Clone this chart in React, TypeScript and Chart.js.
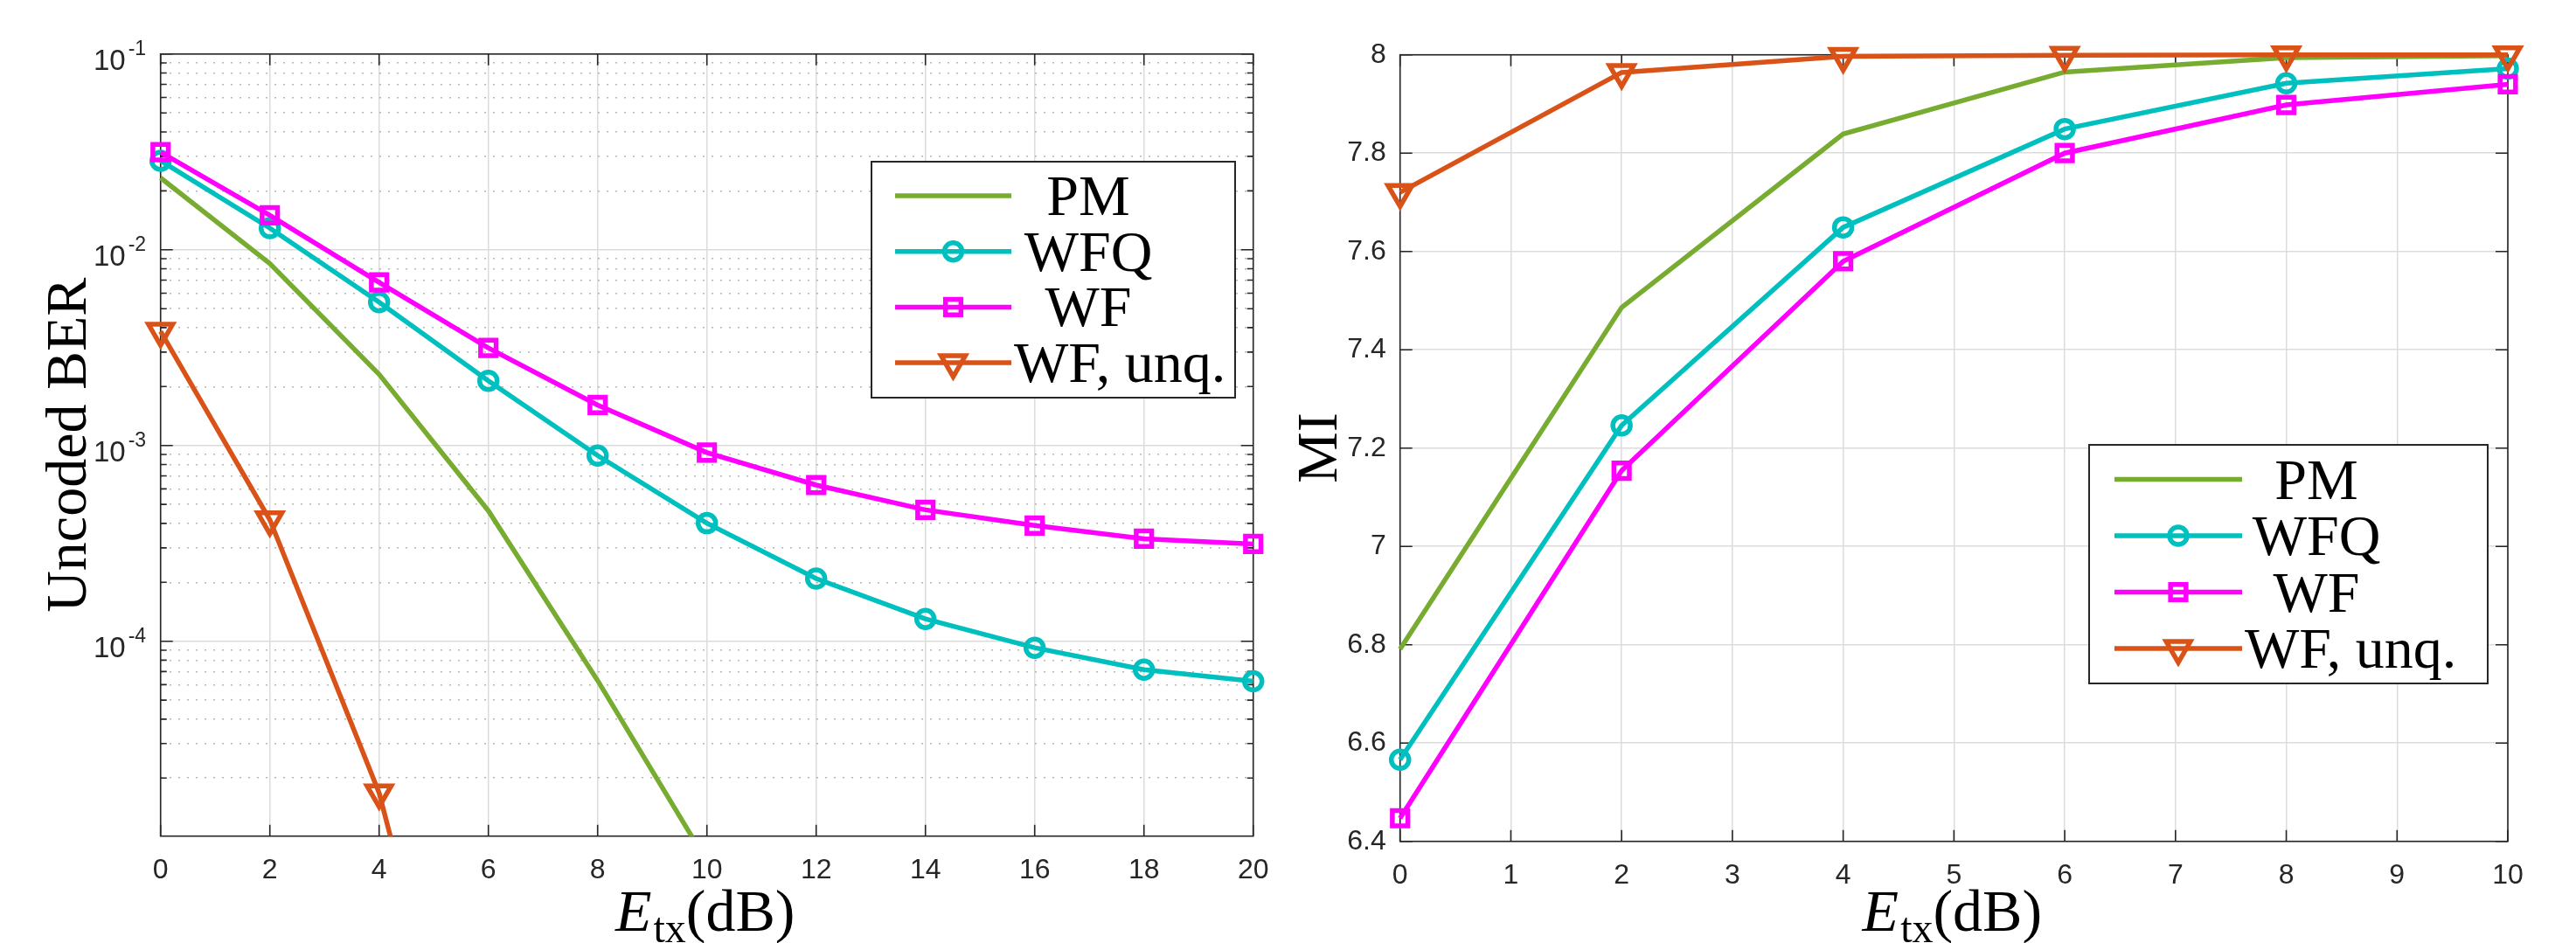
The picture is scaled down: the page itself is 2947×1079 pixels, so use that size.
import React, { useEffect, useRef } from 'react';
import { Chart, registerables } from 'chart.js';

Chart.register(...registerables);

// ---------------- data ----------------
const SERIES_LABELS = ['PM', 'WFQ', 'WF', 'WF, unq.'];

// Left panel: uncoded BER vs E_tx (dB)
const BER_X = [0, 2, 4, 6, 8, 10, 12, 14, 16, 18, 20];
const BER_PM = [2.33e-2, 8.5e-3, 2.31e-3, 4.64e-4, 6.3e-5, 7.5e-6];
const BER_WFQ = [2.85e-2, 1.29e-2, 5.4e-3, 2.14e-3, 8.88e-4, 4.01e-4, 2.09e-4, 1.3e-4, 9.26e-5, 7.16e-5, 6.24e-5];
const BER_WF = [3.15e-2, 1.5e-2, 6.81e-3, 3.15e-3, 1.61e-3, 9.2e-4, 6.28e-4, 4.69e-4, 3.9e-4, 3.34e-4, 3.14e-4];
const BER_WF_UNQ = [3.83e-3, 4.17e-4, 1.68e-5, 1.2e-7];

// Right panel: MI vs E_tx (dB)
const MI_X = [0, 2, 4, 6, 8, 10];
const MI_PM = [6.791, 7.486, 7.839, 7.965, 7.994, 7.998];
const MI_WFQ = [6.566, 7.246, 7.649, 7.849, 7.942, 7.972];
const MI_WF = [6.447, 7.154, 7.58, 7.8, 7.898, 7.94];
const MI_WF_UNQ = [7.72, 7.964, 7.997, 7.999, 8.0, 8.0];

// Axis ranges and tick values
const BER_Y_MIN = 1.01e-5;
const BER_Y_MAX = 1e-1;
const BER_X_TICKS = [0, 2, 4, 6, 8, 10, 12, 14, 16, 18, 20];
const BER_DECADES = [-5, -4, -3, -2, -1];
const BER_MINOR_MULTIPLES = [2, 3, 4, 5, 6, 7, 8, 9];
const MI_X_TICKS = [0, 1, 2, 3, 4, 5, 6, 7, 8, 9, 10];
const MI_Y_TICKS = [6.4, 6.6, 6.8, 7, 7.2, 7.4, 7.6, 7.8, 8];

const X_TITLE_PARTS = ['E', 'tx', '(dB)'];
const BER_Y_TITLE = 'Uncoded BER';
const MI_Y_TITLE = 'MI';

// ---------------- style ----------------
const COLORS = ['#77AC30', '#00BFBF', '#FF00FF', '#D95319'];
const MARKERS = [
  { style: 'circle', r: 0, rot: 0 },
  { style: 'circle', r: 10, rot: 0 },
  { style: 'rect', r: 12.5, rot: 0 },
  { style: 'triangle', r: 16, rot: 180 },
];
const LINE_W = 5.5;
const MARKER_BW = 5.5;
const AXIS_COLOR = '#262626';
const MAJOR_GRID = '#dcdcdc';
const MINOR_GRID = '#b5b5b5';
const SANS = "'Liberation Sans', Arial, Helvetica, sans-serif";
const SERIF = "'Liberation Serif', 'Times New Roman', serif";

const LOG_TICK_VALUES: number[] = [];
BER_DECADES.forEach((e, i) => {
  LOG_TICK_VALUES.push(Math.pow(10, e));
  if (i < BER_DECADES.length - 1) {
    BER_MINOR_MULTIPLES.forEach((m) => LOG_TICK_VALUES.push(m * Math.pow(10, e)));
  }
});
const LOG_TICKS_IN_RANGE = LOG_TICK_VALUES.filter((v) => v >= BER_Y_MIN * 0.999999 && v <= BER_Y_MAX * 1.000001);

const isPow10 = (v: number) => {
  if (!(v > 0)) return false;
  const l = Math.log10(v);
  return Math.abs(l - Math.round(l)) < 1e-6;
};

function makeDatasets(xs: number[], series: number[][]) {
  return series.map((ys, i) => ({
    label: SERIES_LABELS[i],
    data: ys.map((y, j) => ({ x: xs[j], y })),
    borderColor: COLORS[i],
    backgroundColor: COLORS[i],
    borderWidth: LINE_W,
    pointStyle: MARKERS[i].style,
    pointRadius: MARKERS[i].r,
    pointRotation: MARKERS[i].rot,
    pointBorderWidth: MARKER_BW,
    pointBorderColor: COLORS[i],
    pointBackgroundColor: 'rgba(0,0,0,0)',
    tension: 0,
    order: 4 - i,
    clip: { left: 40, right: 40, top: 40, bottom: 0 },
  }));
}

function drawMarker(ctx: CanvasRenderingContext2D, style: string, x: number, y: number, r: number, rotDeg: number) {
  ctx.beginPath();
  if (style === 'circle') {
    ctx.arc(x, y, r, 0, Math.PI * 2);
  } else if (style === 'rect') {
    const s = r * Math.SQRT1_2;
    ctx.rect(x - s, y - s, 2 * s, 2 * s);
  } else if (style === 'triangle') {
    let rad = (rotDeg * Math.PI) / 180;
    ctx.moveTo(x + Math.sin(rad) * r, y - Math.cos(rad) * r);
    rad += (2 * Math.PI) / 3;
    ctx.lineTo(x + Math.sin(rad) * r, y - Math.cos(rad) * r);
    rad += (2 * Math.PI) / 3;
    ctx.lineTo(x + Math.sin(rad) * r, y - Math.cos(rad) * r);
    ctx.closePath();
  }
  ctx.stroke();
}

type LegendCfg = { x: number; y: number; w: number; h: number; x0: number; x1: number; row0: number; gap: number; textCenter: number };
type DecorCfg = { logY: boolean; yTitle: string; yTitleBaseX: number; xTitleBaseY: number; legend: LegendCfg };

function makeDecor(cfg: DecorCfg) {
  return {
    id: 'matlabDecor',
    beforeDatasetsDraw(chart: any) {
      const { ctx, chartArea: a } = chart;
      const xs = chart.scales.x;
      const ys = chart.scales.y;
      ctx.save();
      ctx.strokeStyle = AXIS_COLOR;
      ctx.lineWidth = 1.6;
      ctx.beginPath();
      for (const t of xs.ticks) {
        const p = xs.getPixelForValue(t.value);
        ctx.moveTo(p, a.bottom);
        ctx.lineTo(p, a.bottom - 13);
        ctx.moveTo(p, a.top);
        ctx.lineTo(p, a.top + 13);
      }
      for (const t of ys.ticks) {
        const p = ys.getPixelForValue(t.value);
        const len = cfg.logY && !isPow10(t.value) ? 7 : 14;
        ctx.moveTo(a.left, p);
        ctx.lineTo(a.left + len, p);
        ctx.moveTo(a.right, p);
        ctx.lineTo(a.right - len, p);
      }
      ctx.stroke();
      ctx.strokeRect(a.left, a.top, a.right - a.left, a.bottom - a.top);
      ctx.restore();
    },
    afterDraw(chart: any) {
      const { ctx, chartArea: a } = chart;
      const ys = chart.scales.y;
      ctx.save();
      // exponents of the log tick labels (10^n)
      if (cfg.logY) {
        ctx.fillStyle = AXIS_COLOR;
        ctx.font = `23px ${SANS}`;
        ctx.textAlign = 'left';
        ctx.textBaseline = 'middle';
        for (const t of ys.ticks) {
          if (!isPow10(t.value)) continue;
          const p = ys.getPixelForValue(t.value);
          ctx.fillText(String(Math.round(Math.log10(t.value))), a.left - 37, p - 5);
        }
      }
      // y title (rotated)
      ctx.fillStyle = '#000';
      ctx.font = `66px ${SERIF}`;
      ctx.textAlign = 'center';
      ctx.textBaseline = 'alphabetic';
      ctx.translate(cfg.yTitleBaseX, (a.top + a.bottom) / 2);
      ctx.rotate(-Math.PI / 2);
      ctx.fillText(cfg.yTitle, 0, 0);
      ctx.setTransform(1, 0, 0, 1, 0, 0);
      // x title: E_tx(dB)
      const fonts = [`italic 68px ${SERIF}`, `48px ${SERIF}`, `68px ${SERIF}`];
      const dys = [0, 13, 0];
      const widths = X_TITLE_PARTS.map((p, i) => {
        ctx.font = fonts[i];
        return ctx.measureText(p).width;
      });
      const total = widths.reduce((s, w) => s + w, 0) + 2;
      let xx = (a.left + a.right) / 2 - 2 - total / 2;
      ctx.textAlign = 'left';
      X_TITLE_PARTS.forEach((p, i) => {
        ctx.font = fonts[i];
        ctx.fillText(p, xx, cfg.xTitleBaseY + dys[i]);
        xx += widths[i] + (i === 0 ? 2 : 0);
      });
      // legend
      const L = cfg.legend;
      ctx.fillStyle = '#fff';
      ctx.fillRect(L.x, L.y, L.w, L.h);
      ctx.strokeStyle = AXIS_COLOR;
      ctx.lineWidth = 2;
      ctx.strokeRect(L.x, L.y, L.w, L.h);
      chart.data.datasets.forEach((ds: any, i: number) => {
        const y = L.row0 + i * L.gap;
        ctx.strokeStyle = ds.borderColor;
        ctx.lineWidth = ds.borderWidth;
        ctx.beginPath();
        ctx.moveTo(L.x0, y);
        ctx.lineTo(L.x1, y);
        ctx.stroke();
        if (ds.pointRadius > 0) {
          ctx.lineWidth = ds.pointBorderWidth;
          drawMarker(ctx, ds.pointStyle, (L.x0 + L.x1) / 2, y, ds.pointRadius, ds.pointRotation || 0);
        }
        ctx.font = `66px ${SERIF}`;
        ctx.fillStyle = '#000';
        ctx.textAlign = 'left';
        ctx.textBaseline = 'alphabetic';
        const w = ctx.measureText(ds.label).width;
        const tx = Math.max(L.x1 + 3, L.textCenter - w / 2);
        ctx.fillText(ds.label, tx, y + 22);
      });
      ctx.restore();
    },
  };
}

const tickFont = (size: number) => ({ family: SANS, size });

function berConfig(): any {
  return {
    type: 'line',
    data: { datasets: makeDatasets(BER_X, [BER_PM, BER_WFQ, BER_WF, BER_WF_UNQ]) },
    options: {
      animation: false,
      responsive: false,
      devicePixelRatio: 1,
      events: [],
      layout: { padding: { top: 61.8, right: 66.3, bottom: 0, left: 0 } },
      plugins: { legend: { display: false }, tooltip: { enabled: false } },
      scales: {
        x: {
          type: 'linear',
          min: 0,
          max: 20,
          afterFit: (s: any) => { s.height = 122.3; },
          afterBuildTicks: (s: any) => { s.ticks = BER_X_TICKS.map((v) => ({ value: v })); },
          ticks: { autoSkip: false, maxRotation: 0, padding: 20, color: AXIS_COLOR, font: tickFont(32), callback: (v: number) => String(v) },
          grid: { color: MAJOR_GRID, lineWidth: 1.5, drawTicks: false },
          border: { display: false },
        },
        y: {
          type: 'logarithmic',
          min: BER_Y_MIN,
          max: BER_Y_MAX,
          afterFit: (s: any) => { s.width = 183.7; },
          afterBuildTicks: (s: any) => { s.ticks = LOG_TICKS_IN_RANGE.map((v) => ({ value: v, major: isPow10(v) })); },
          ticks: {
            autoSkip: false,
            padding: 40,
            labelOffset: 9,
            color: AXIS_COLOR,
            font: tickFont(33),
            callback: (v: number) => (isPow10(v) ? '10' : ''),
          },
          grid: {
            color: (c: any) => (c.tick && !isPow10(c.tick.value) ? MINOR_GRID : MAJOR_GRID),
            lineWidth: 1.5,
            drawTicks: false,
          },
          border: { display: false, dash: (c: any) => (c.tick && !isPow10(c.tick.value) ? [2, 8] : []) },
        },
      },
    },
    plugins: [
      makeDecor({
        logY: true,
        yTitle: BER_Y_TITLE,
        yTitleBaseX: 98,
        xTitleBaseY: 1065,
        legend: { x: 997, y: 185, w: 416, h: 270, x0: 1024, x1: 1157, row0: 224, gap: 63.7, textCenter: 1245 },
      }),
    ],
  };
}

const RIGHT_LEFT = 1450;

function miConfig(): any {
  return {
    type: 'line',
    data: { datasets: makeDatasets(MI_X, [MI_PM, MI_WFQ, MI_WF, MI_WF_UNQ]) },
    options: {
      animation: false,
      responsive: false,
      devicePixelRatio: 1,
      events: [],
      layout: { padding: { top: 62.7, right: 78, bottom: 0, left: 0 } },
      plugins: { legend: { display: false }, tooltip: { enabled: false } },
      scales: {
        x: {
          type: 'linear',
          min: 0,
          max: 10,
          afterFit: (s: any) => { s.height = 116.3; },
          afterBuildTicks: (s: any) => { s.ticks = MI_X_TICKS.map((v) => ({ value: v })); },
          ticks: { autoSkip: false, maxRotation: 0, padding: 20, color: AXIS_COLOR, font: tickFont(32), callback: (v: number) => String(v) },
          grid: { color: MAJOR_GRID, lineWidth: 1.5, drawTicks: false },
          border: { display: false },
        },
        y: {
          type: 'linear',
          min: 6.4,
          max: 8,
          afterFit: (s: any) => { s.width = 1601.7 - RIGHT_LEFT; },
          afterBuildTicks: (s: any) => { s.ticks = MI_Y_TICKS.map((v) => ({ value: v })); },
          ticks: {
            autoSkip: false,
            padding: 16,
            color: AXIS_COLOR,
            font: tickFont(32),
            callback: (v: number) => String(parseFloat(Number(v).toFixed(1))),
          },
          grid: { color: MAJOR_GRID, lineWidth: 1.5, drawTicks: false },
          border: { display: false },
        },
      },
    },
    plugins: [
      makeDecor({
        logY: false,
        yTitle: MI_Y_TITLE,
        yTitleBaseX: 1529 - RIGHT_LEFT,
        xTitleBaseY: 1065,
        legend: {
          x: 2390 - RIGHT_LEFT, y: 509, w: 456, h: 273,
          x0: 2419 - RIGHT_LEFT, x1: 2565 - RIGHT_LEFT,
          row0: 548.5, gap: 64.5, textCenter: 2650 - RIGHT_LEFT,
        },
      }),
    ],
  };
}

function ChartBox({ left, width, makeConfig }: { left: number; width: number; makeConfig: () => any }) {
  const ref = useRef<HTMLCanvasElement>(null);
  useEffect(() => {
    const chart = new Chart(ref.current as HTMLCanvasElement, makeConfig());
    return () => chart.destroy();
  }, []);
  return (
    <canvas
      ref={ref}
      width={width}
      height={1079}
      style={{ position: 'absolute', left, top: 0, width, height: 1079, display: 'block' }}
    />
  );
}

export default function App() {
  return (
    <div style={{ position: 'absolute', left: 0, top: 0, width: 2947, height: 1079, background: '#fff', overflow: 'hidden' }}>
      <ChartBox left={0} width={1500} makeConfig={berConfig} />
      <ChartBox left={RIGHT_LEFT} width={2947 - RIGHT_LEFT} makeConfig={miConfig} />
    </div>
  );
}
